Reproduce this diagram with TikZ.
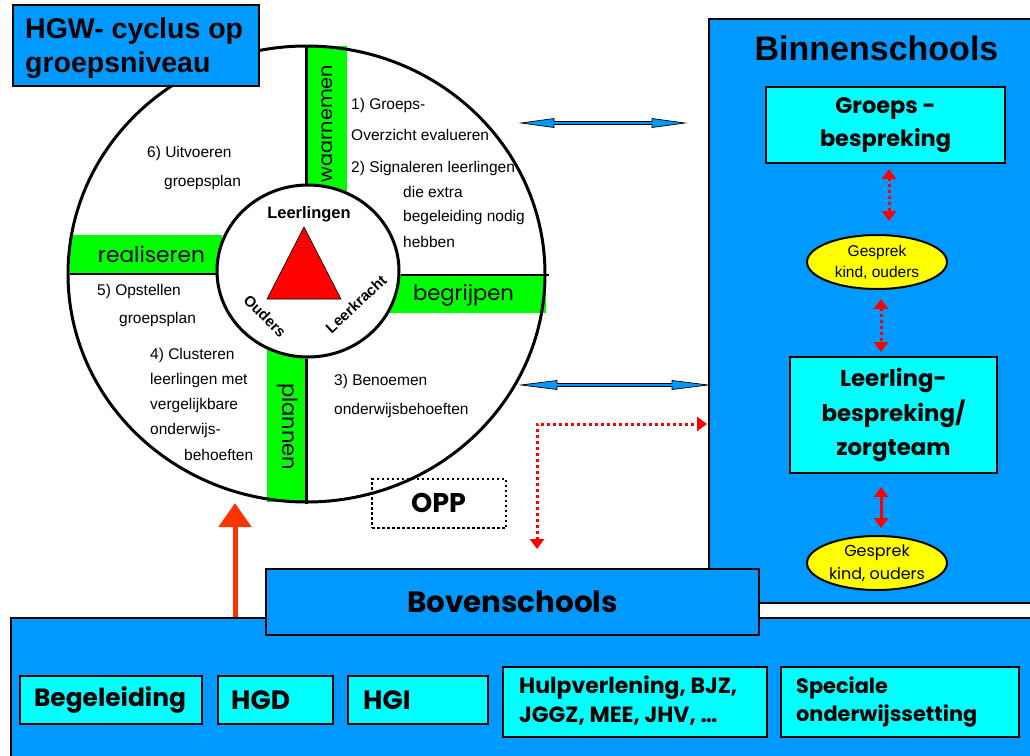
\documentclass[tikz,border=0pt]{standalone}
\usepackage{fontspec}
\usepackage{graphicx}
\setmainfont{Liberation Sans}
\newfontfamily\comic{Poppins}
\usetikzlibrary{shapes.geometric,arrows.meta,calc}
\definecolor{hblue}{RGB}{0,153,255}
\definecolor{hcyan}{RGB}{0,255,255}
\definecolor{hgreen}{RGB}{0,255,0}
\definecolor{hyellow}{RGB}{255,255,0}
\definecolor{hred}{RGB}{255,0,0}
\definecolor{horange}{RGB}{255,51,0}
\newcommand\fitw[2]{\resizebox{#1pt}{!}{#2}}
\newlength\fpw
\newcommand\samescale[3]{\settowidth\fpw{#2}\pgfmathsetmacro\fpf{#1/\fpw}\scalebox{\fpf}{#3}}
\newcommand\dblarrow[3]{%
  \draw[bluearrow] (#1) -- ($(#1)+(#3,-4.5)$) -- ($(#1)+(#3,-1.5)$) -- ($(#2)+(-#3,-1.5)$) -- ($(#2)+(-#3,-4.5)$) -- (#2) -- ($(#2)+(-#3,4.5)$) -- ($(#2)+(-#3,1.5)$) -- ($(#1)+(#3,1.5)$) -- ($(#1)+(#3,4.5)$) -- cycle;}
\begin{document}
\begin{tikzpicture}[x=1pt,y=-1pt,
  bluebox/.style={draw=black,line width=2pt,fill=hblue,inner sep=0pt},
  cyanbox/.style={draw=black,line width=2.5pt,fill=hcyan,inner sep=0pt},
  greenbar/.style={fill=hgreen,inner sep=0pt},
  ring/.style={ellipse,draw=black,line width=3pt,inner sep=0pt},
  divider/.style={line width=2.5pt},
  talk/.style={ellipse,draw=black,line width=2pt,fill=hyellow,inner sep=0pt},
  circtext/.style={anchor=west,inner sep=0pt,font=\fontsize{15.5}{18}\selectfont},
  comictext/.style={inner sep=0pt,font=\comic\bfseries\fontsize{22}{28}\selectfont},
  bartext/.style={inner sep=0pt,font=\comic\fontsize{22}{26}\selectfont},
  bluearrow/.style={fill=hblue,draw=black,line width=0.7pt},
  reddots/.style={draw=hred,line width=3pt,dash pattern=on 3pt off 3pt,{Triangle[width=14pt,length=10pt]}-{Triangle[width=14pt,length=10pt]}},
  redsolid/.style={draw=hred,line width=3pt,{Triangle[width=14pt,length=10pt]}-{Triangle[width=14pt,length=10pt]}},
  upstream/.style={draw=horange,line width=5pt,-{Triangle[width=32pt,length=24pt]}},
]
\useasboundingbox (0,0) rectangle (1030,755);
\clip (0,0) rectangle (1030,755);
\fill[white] (0,0) rectangle (1030,755);

% ---------- Binnenschools ----------
\node[bluebox,minimum width=340pt,minimum height=584pt,anchor=north west] (binnen) at (708,18) {};
\node[inner sep=0pt,font=\bfseries\fontsize{34}{38}\selectfont] (binnentitle) at (876.5,48) {Binnenschools};
\node[cyanbox,minimum width=239pt,minimum height=76pt,align=center,font=\comic\bfseries\fontsize{22}{33}\selectfont] (groeps) at (885.5,125) {\samescale{131}{bespreking}{Groeps -}\\\fitw{131}{bespreking}};
\node[talk,minimum width=140pt,minimum height=54pt,align=center,font=\fontsize{15.5}{21}\selectfont] (talk1) at (877,262) {Gesprek\\kind, ouders};
\node[cyanbox,minimum width=207pt,minimum height=116pt,align=center,font=\comic\bfseries\fontsize{22}{34.5}\selectfont] (leerling) at (893.5,415) {\samescale{144}{bespreking/}{Leerling-}\\\fitw{144}{bespreking/}\\\samescale{144}{bespreking/}{zorgteam}};
\node[talk,minimum width=140pt,minimum height=54pt,align=center,font=\comic\fontsize{15}{23}\selectfont] (talk2) at (877,563) {\samescale{96}{kind, ouders}{Gesprek}\\\fitw{96}{kind, ouders}};
\coordinate (r1a) at (889,169);
\coordinate (r1b) at (889,221);
\coordinate (r2a) at (881,299);
\coordinate (r2b) at (881,352);
\coordinate (r3a) at (881,487);
\coordinate (r3b) at (881,528);
\draw[reddots] (r1a) -- (r1b);
\draw[reddots] (r2a) -- (r2b);
\draw[redsolid] (r3a) -- (r3b);

% ---------- Bovenschools ----------
\node[bluebox,minimum width=1040pt,minimum height=160pt,anchor=north west] (boven) at (10,617) {};
\node[bluebox,minimum width=493pt,minimum height=66pt,font=\comic\bfseries\fontsize{28}{32}\selectfont] (boventitle) at (512.5,602) {\fitw{211}{Bovenschools}};
\node[cyanbox,minimum width=182pt,minimum height=48pt] (begel) at (111,700) {};
\node[comictext] (begeltext) at (110,700) {\fitw{152}{Begeleiding}};
\node[cyanbox,minimum width=115pt,minimum height=48pt] (hgd) at (275.5,700) {};
\node[comictext,anchor=west] (hgdtext) at (231,700) {\samescale{162}{Begeleiding}{HGD}};
\node[cyanbox,minimum width=140pt,minimum height=48pt] (hgi) at (418,700) {};
\node[comictext,anchor=west] (hgitext) at (363,700) {\samescale{162}{Begeleiding}{HGI}};
\node[cyanbox,minimum width=264pt,minimum height=70pt] (hulp) at (635,702) {};
\node[comictext,anchor=west] (hulptext1) at (519,688) {\fitw{218}{Hulpverlening, BJZ,}};
\node[comictext,anchor=west] (hulptext2) at (519,716) {\samescale{218}{Hulpverlening, BJZ,}{JGGZ, MEE, JHV, \dots}};
\node[cyanbox,minimum width=238pt,minimum height=70pt] (spec) at (900,702) {};
\node[comictext,anchor=west] (spectext1) at (796,688) {\samescale{181}{onderwijssetting}{Speciale}};
\node[comictext,anchor=west] (spectext2) at (796,716) {\fitw{181}{onderwijssetting}};

% ---------- cycle ----------
\node[greenbar,minimum width=40pt,minimum height=145pt] (barW) at (327,118.5) {};
\node[greenbar,minimum width=152pt,minimum height=39pt] (barR) at (146,254.5) {};
\node[greenbar,minimum width=158pt,minimum height=38pt] (barB) at (467,294) {};
\node[greenbar,minimum width=41pt,minimum height=157pt] (barP) at (287.5,423.5) {};
\node[ring,minimum width=477pt,minimum height=456pt] (outer) at (306.5,274) {};
\node[ring,fill=white,minimum width=182pt,minimum height=172pt] (inner) at (308,271) {};
\draw[divider] (outer.north) -- (outer.north |- inner.north);
\draw[divider] (outer.south) -- (outer.south |- inner.south);
\draw[divider] (70,274) coordinate (lw) -- (lw -| inner.west);
\draw[divider] (inner.east |- 0,275) coordinate (re) -- (re -| 549,0);
\node[bartext,rotate=90] (waar) at (327,123.5) {\fitw{117}{waarnemen}};
\node[bartext] (real) at (151.5,254) {\fitw{107}{realiseren}};
\node[bartext] (begr) at (463.5,295) {\fitw{101}{begrijpen}};
\node[bartext,rotate=-90] (plan) at (288,426.5) {\fitw{87}{plannen}};

\fill[hred,draw=black,line width=0.6pt] (304,227) coordinate (ttop) -- (267,299) coordinate (tleft) -- (341,299) coordinate (tright) -- cycle;
\node[inner sep=0pt,font=\bfseries\fontsize{16.5}{18}\selectfont] (lln) at (309,214) {Leerlingen};
\node[inner sep=0pt,rotate=-45,font=\bfseries\fontsize{15}{18}\selectfont] (oud) at (265,316) {Ouders};
\node[inner sep=0pt,rotate=43,font=\bfseries\fontsize{15}{18}\selectfont] (lkr) at (356,304) {Leerkracht};

\node[circtext] (t1a) at (351,105) {1) Groeps-};
\node[circtext] (t1b) at (351,135) {Overzicht evalueren};
\node[circtext] (t2a) at (351,168) {2) Signaleren leerlingen};
\node[circtext] (t2b) at (403,192) {die extra};
\node[circtext] (t2c) at (403,217) {begeleiding nodig};
\node[circtext] (t2d) at (403,242) {hebben};
\node[circtext] (t6a) at (147,153) {6) Uitvoeren};
\node[circtext] (t6b) at (164,182) {groepsplan};
\node[circtext] (t5a) at (97,291) {5) Opstellen};
\node[circtext] (t5b) at (119,319) {groepsplan};
\node[circtext] (t4a) at (150,355) {4) Clusteren};
\node[circtext] (t4b) at (150,380) {leerlingen met};
\node[circtext] (t4c) at (150,405) {vergelijkbare};
\node[circtext] (t4d) at (150,430) {onderwijs-};
\node[circtext] (t4e) at (184,455) {behoeften};
\node[circtext] (t3a) at (334,381) {3) Benoemen};
\node[circtext] (t3b) at (334,410) {onderwijsbehoeften};

% title
\node[bluebox,minimum width=246pt,minimum height=81pt] (title) at (136,45.5) {};
\node[anchor=base west,inner sep=0pt,font=\bfseries\fontsize{28.5}{34}\selectfont] (title1) at (25,38) {HGW- cyclus op};
\node[anchor=base west,inner sep=0pt,font=\bfseries\fontsize{28.5}{34}\selectfont] (title2) at (25,72) {groepsniveau};

% OPP
\node[draw=black,line width=2.5pt,dash pattern=on 2.5pt off 2.5pt,minimum width=134pt,minimum height=49pt,inner sep=0pt] (opp) at (439,503.5) {};
\node[comictext] (opptext) at (438.5,503) {\samescale{165}{Begeleiding}{OPP}};

% arrows
\coordinate (ba1l) at (521,123);
\coordinate (ba1r) at (685,123);
\coordinate (ba2l) at (521,385);
\coordinate (ba2r) at (708,385);
\dblarrow{ba1l}{ba1r}{33}
\dblarrow{ba2l}{ba2r}{36}
\coordinate (rd0) at (537,549);
\coordinate (rd1) at (537,424);
\coordinate (rd2) at (707,424);
\draw[reddots] (rd0) -- (rd1) -- (rd2);
\coordinate (up0) at (235,617);
\coordinate (up1) at (235,503);
\draw[upstream] (up0) -- (up1);
\end{tikzpicture}
\end{document}
